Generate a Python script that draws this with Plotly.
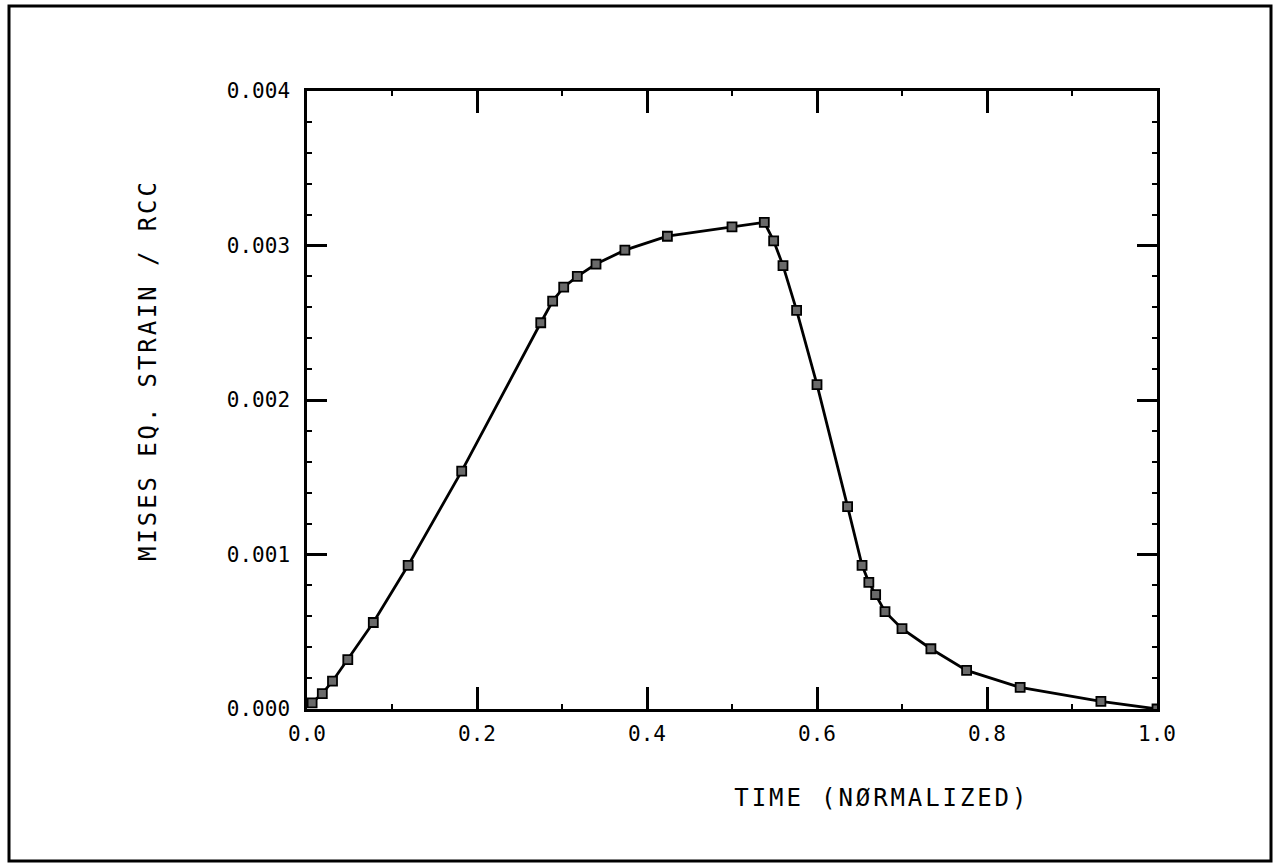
import plotly.graph_objects as go

# Data
time_norm = [0.006, 0.018, 0.030, 0.048, 0.078, 0.119, 0.182, 0.275, 0.289, 0.302,
             0.318, 0.340, 0.374, 0.424, 0.500, 0.538, 0.549, 0.560, 0.576, 0.600,
             0.636, 0.653, 0.661, 0.669, 0.680, 0.700, 0.734, 0.776, 0.839, 0.934, 1.0]
strain = [0.00004, 0.00010, 0.00018, 0.00032, 0.00056, 0.00093, 0.00154, 0.00250, 0.00264, 0.00273,
          0.00280, 0.00288, 0.00297, 0.00306, 0.00312, 0.00315, 0.00303, 0.00287, 0.00258, 0.00210,
          0.00131, 0.00093, 0.00082, 0.00074, 0.00063, 0.00052, 0.00039, 0.00025, 0.00014, 0.00005, 0.0]

x_ticks = [0.0, 0.2, 0.4, 0.6, 0.8, 1.0]
x_ticklabels = ["0.0", "0.2", "0.4", "0.6", "0.8", "1.0"]
y_ticks = [0.0, 0.001, 0.002, 0.003, 0.004]
y_ticklabels = ["0.000", "0.001", "0.002", "0.003", "0.004"]

x_title = "TIME (NØRMALIZED)"
y_title = "MISES EQ. STRAIN / RCC"

FONT = "DejaVu Sans Mono"

fig = go.Figure()
fig.add_trace(go.Scatter(
    x=time_norm, y=strain, mode="lines+markers",
    line=dict(color="black", width=2.8),
    marker=dict(symbol="square", size=9, color="#6a6a6a",
                line=dict(color="black", width=1.8)),
    showlegend=False,
))

# plot area: x 307..1157, y 91..709
W, H = 1274, 866
L, R, T, B = 307, 1157, 91, 709
pw, ph = R - L, B - T

def px(xp):
    return (xp - L) / pw

def py(yp):
    return (B - yp) / ph

axis_common = dict(
    showgrid=False, zeroline=False, showline=True, linecolor="black", linewidth=2.5,
    mirror="allticks", ticks="inside", tickwidth=2.5, tickcolor="black",
    tickfont=dict(family=FONT, size=21, color="black"),
)

fig.update_xaxes(range=[0, 1], tickvals=x_ticks, ticktext=x_ticklabels, ticklen=22,
                 minor=dict(dtick=0.1, ticks="inside", ticklen=5, tickwidth=2, tickcolor="black"),
                 ticklabelstandoff=4, **axis_common)
fig.update_yaxes(range=[0, 0.004], tickvals=y_ticks, ticktext=y_ticklabels, ticklen=20,
                 minor=dict(dtick=0.0002, ticks="inside", ticklen=5, tickwidth=2, tickcolor="black"),
                 ticklabelstandoff=10, **axis_common)

fig.add_annotation(text=x_title, xref="paper", yref="paper", x=px(882), y=py(798),
                   showarrow=False, xanchor="center", yanchor="middle",
                   font=dict(family=FONT, size=24, color="black"))
fig.add_annotation(text=y_title, xref="paper", yref="paper", x=px(148), y=py(370),
                   showarrow=False, xanchor="center", yanchor="middle", textangle=-90,
                   font=dict(family=FONT, size=24, color="black"))

# outer frame
fig.add_shape(type="rect", xref="paper", yref="paper",
              x0=px(9), x1=px(1271), y0=py(861), y1=py(6),
              line=dict(color="black", width=3), fillcolor="rgba(0,0,0,0)", layer="above")

fig.update_layout(
    width=W, height=H,
    margin=dict(l=L, r=W - R, t=T, b=H - B, pad=0),
    paper_bgcolor="white", plot_bgcolor="white",
    font=dict(family=FONT, color="black"),
)

# widen the plotter-style spacing of the axis titles
post = ("document.querySelectorAll('.annotation-text').forEach(function(t){"
        "t.style.letterSpacing='2.9px';});")
fig.write_html("out.html", post_script=post)
